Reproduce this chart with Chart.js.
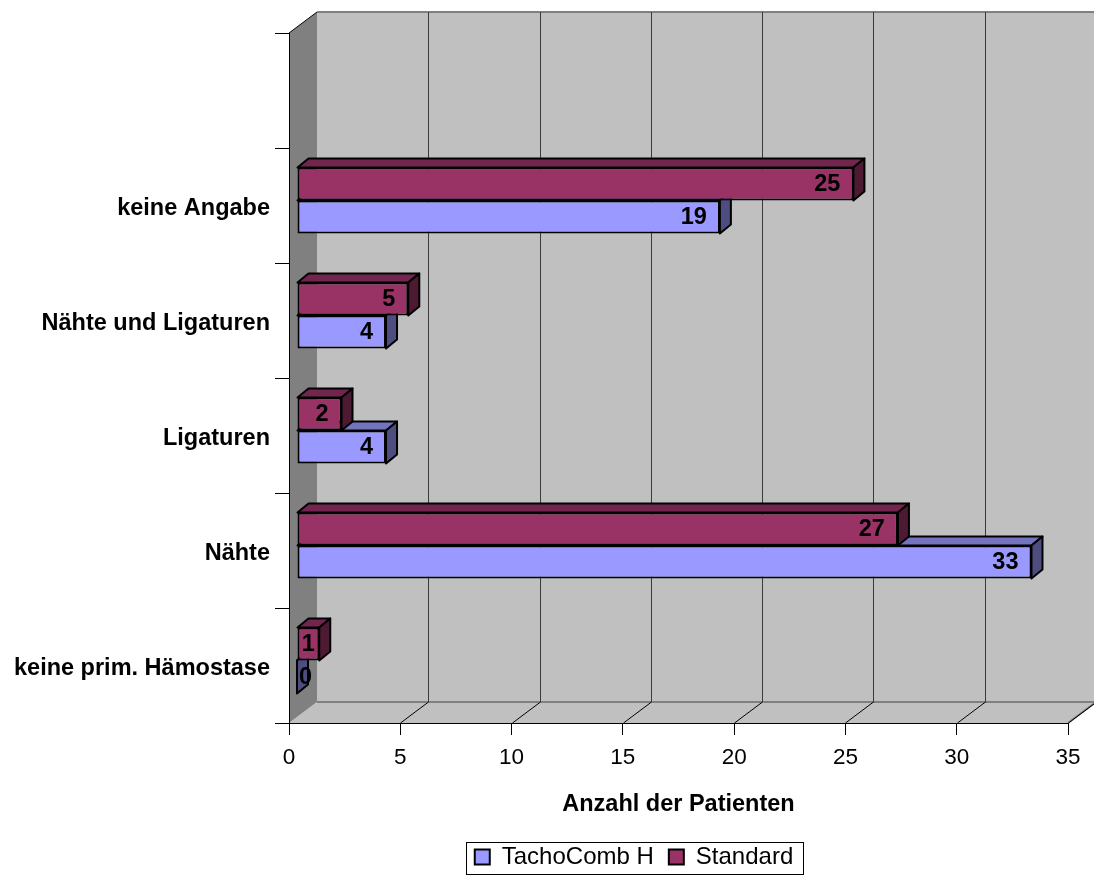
<!DOCTYPE html>
<html>
<head>
<meta charset="utf-8">
<script src="https://cdn.jsdelivr.net/npm/chart.js@4.4.0/dist/chart.umd.min.js"></script>
<style>
  body { margin: 0; background: #fff; }
</style>
</head>
<body>
<canvas id="chart" width="1094" height="875"></canvas>
<script>
// categories from top to bottom, the top slot is empty like in the original
const categories = ['', 'keine Angabe', 'Nähte und Ligaturen', 'Ligaturen', 'Nähte', 'keine prim. Hämostase'];
const tachoComb = [null, 19, 4, 4, 33, 0];
const standard = [null, 25, 5, 2, 27, 1];
const xMin = 0, xMax = 35, xStep = 5;

// front / top / side shades of the 3d bars
const tachoColors = { front: '#9999FF', top: '#7373BF', side: '#4D4D80' };
const standardColors = { front: '#993366', top: '#73264D', side: '#4D1A33' };

// depth of the walls and of the bars (pixels)
const WALL_DX = 28, WALL_DY = -21;
const BAR_SHIFT_X = 8, BAR_SHIFT_Y = -5;
const BAR_DX = 11, BAR_DY = -9;
const LEGEND_FONT = 24;

Chart.defaults.font.family = "'Liberation Sans', Arial, Helvetica, sans-serif";

function poly(ctx, pts) {
  ctx.beginPath();
  ctx.moveTo(pts[0][0], pts[0][1]);
  for (let i = 1; i < pts.length; i++) ctx.lineTo(pts[i][0], pts[i][1]);
  ctx.closePath();
}

function line(ctx, x1, y1, x2, y2, color, w) {
  ctx.beginPath();
  ctx.moveTo(x1, y1);
  ctx.lineTo(x2, y2);
  ctx.strokeStyle = color;
  ctx.lineWidth = w;
  ctx.stroke();
}

// grey walls, floor and the gridlines on them
const wallsPlugin = {
  id: 'walls',
  beforeDraw(chart) {
    const { ctx, chartArea: a, scales: { x } } = chart;
    ctx.save();
    ctx.fillStyle = '#C0C0C0';
    ctx.fillRect(a.left + WALL_DX, a.top + WALL_DY, a.width, a.height);
    poly(ctx, [[a.left, a.bottom], [a.right, a.bottom], [a.right + WALL_DX, a.bottom + WALL_DY], [a.left + WALL_DX, a.bottom + WALL_DY]]);
    ctx.fill();
    ctx.fillStyle = '#808080';
    poly(ctx, [[a.left, a.top], [a.left + WALL_DX, a.top + WALL_DY], [a.left + WALL_DX, a.bottom + WALL_DY], [a.left, a.bottom]]);
    ctx.fill();

    line(ctx, a.left + WALL_DX, a.top + WALL_DY, a.right + WALL_DX, a.top + WALL_DY, '#808080', 2);
    line(ctx, a.left + WALL_DX, a.bottom + WALL_DY, a.right + WALL_DX, a.bottom + WALL_DY, '#808080', 2);
    line(ctx, a.right, a.bottom, a.right + WALL_DX, a.bottom + WALL_DY, '#808080', 2);
    line(ctx, a.left, a.top, a.left + WALL_DX, a.top + WALL_DY, '#000', 1);

    x.ticks.forEach(t => {
      if (t.value <= xMin) return;
      const px = Math.round(x.getPixelForValue(t.value)) + 0.5;
      line(ctx, px + WALL_DX, a.top + WALL_DY, px + WALL_DX, a.bottom + WALL_DY, '#3a3a3a', 1);
      line(ctx, px, a.bottom, px + WALL_DX, a.bottom + WALL_DY, '#000', 1);
    });
    ctx.restore();
  }
};

// top and side faces of every bar plus the value labels
const barsPlugin = {
  id: 'bars3d',
  beforeDatasetsDraw(chart) {
    chart.ctx.save();
    chart.ctx.translate(BAR_SHIFT_X, BAR_SHIFT_Y);
  },
  afterDatasetDraw(chart, args) {
    const ctx = chart.ctx;
    const ds = chart.data.datasets[args.index];
    const c = ds.faces;
    args.meta.data.forEach((bar, i) => {
      const v = ds.data[i];
      if (v === null || v === undefined) return;
      const { x, y, base, height } = bar.getProps(['x', 'y', 'base', 'height'], true);
      const L = Math.min(base, x), R = Math.max(base, x);
      const T = y - height / 2, B = y + height / 2;
      ctx.save();
      ctx.lineWidth = 2;
      ctx.lineJoin = 'round';
      ctx.strokeStyle = '#000';
      ctx.fillStyle = c.top;
      poly(ctx, [[L, T], [L + BAR_DX, T + BAR_DY], [R + BAR_DX, T + BAR_DY], [R, T]]);
      ctx.fill(); ctx.stroke();
      ctx.fillStyle = c.side;
      poly(ctx, [[R, T], [R + BAR_DX, T + BAR_DY], [R + BAR_DX, B + BAR_DY], [R, B]]);
      ctx.fill(); ctx.stroke();

      ctx.font = "bold 23.5px 'Liberation Sans', Arial, sans-serif";
      ctx.fillStyle = '#000';
      ctx.textBaseline = 'middle';
      ctx.textAlign = 'center';
      const txt = String(v);
      const w = ctx.measureText(txt).width;
      let cx = R - 13 - w / 2;
      if (R - L < w + 26) cx = Math.max((L + R) / 2, L + 2 + w / 2);
      ctx.fillText(txt, cx, y + 1);
      ctx.restore();
    });
  },
  afterDatasetsDraw(chart) {
    chart.ctx.restore();
  }
};

// the legend sits right of the centre in the original, and has a frame
const legendPlugin = {
  id: 'legendFrame',
  afterLayout(chart) {
    chart.legend.left += 100;
    chart.legend.right += 100;
  },
  afterDraw(chart) {
    const { ctx, legend: lg } = chart;
    const pad = lg.options.labels.padding;
    const lw = lg.lineWidths[0];
    const startX = (lg.left + pad + lg.right - lw) / 2;
    const endX = startX + lw - pad;
    const cy = lg.top + pad + LEGEND_FONT / 2;
    ctx.save();
    ctx.strokeStyle = '#000';
    ctx.lineWidth = 1;
    ctx.strokeRect(Math.round(startX - 9) + 0.5, Math.round(cy - 15) + 0.5, Math.round(endX - startX + 19), 32);
    ctx.restore();
  }
};

new Chart(document.getElementById('chart'), {
  type: 'bar',
  data: {
    labels: categories,
    datasets: [
      {
        label: 'Standard',
        data: standard,
        backgroundColor: standardColors.front,
        borderColor: '#000',
        borderWidth: 2,
        borderSkipped: false,
        clip: false,
        faces: standardColors
      },
      {
        label: 'TachoComb H',
        data: tachoComb,
        backgroundColor: tachoColors.front,
        borderColor: '#000',
        borderWidth: 2,
        borderSkipped: false,
        clip: false,
        faces: tachoColors
      }
    ]
  },
  options: {
    indexAxis: 'y',
    responsive: false,
    animation: false,
    devicePixelRatio: 1,
    categoryPercentage: 0.574,
    barPercentage: 1,
    layout: { padding: { top: 33, right: 26, bottom: -4, left: 0 } },
    scales: {
      x: {
        type: 'linear',
        min: xMin,
        max: xMax,
        ticks: { stepSize: xStep, color: '#000', font: { size: 22.5 }, padding: 9 },
        grid: { drawOnChartArea: false, drawTicks: true, tickLength: 12, color: '#000' },
        border: { display: true, color: '#000', width: 1 },
        title: {
          display: true,
          text: 'Anzahl der Patienten',
          color: '#000',
          font: { size: 23.5, weight: 'bold' },
          padding: { top: 10, bottom: 11 }
        },
        afterFit(s) { s.height = 107; }
      },
      y: {
        ticks: { color: '#000', font: { size: 23.5, weight: 'bold' }, padding: 5, labelOffset: 3 },
        grid: { drawOnChartArea: false, drawTicks: true, tickLength: 14, color: '#000', offset: true },
        border: { display: true, color: '#000', width: 1 },
        afterFit(s) { s.width = 289; }
      }
    },
    plugins: {
      legend: {
        position: 'bottom',
        reverse: true,
        labels: { color: '#000', font: { size: LEGEND_FONT }, boxWidth: 15, boxHeight: 15, padding: 15 }
      },
      tooltip: { enabled: false }
    }
  },
  plugins: [wallsPlugin, barsPlugin, legendPlugin]
});
</script>
</body>
</html>
